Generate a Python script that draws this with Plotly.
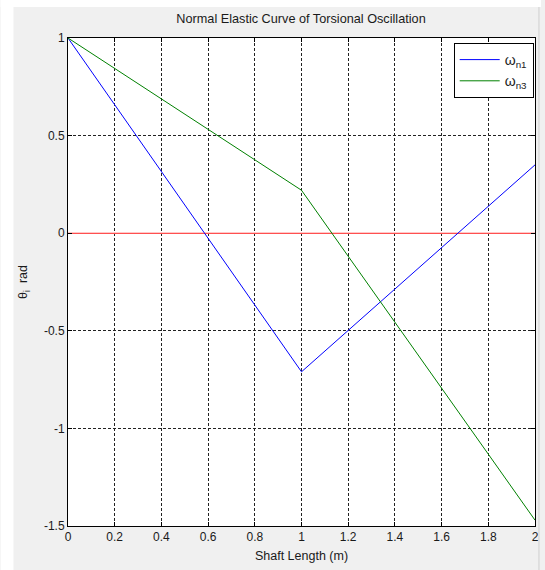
import plotly.graph_objects as go

# ---- data ----
shaft_x = [0, 1, 2]
omega_n1 = [1.0, -0.71, 0.35]
omega_n3 = [1.0, 0.22, -1.47]
ref_x = [0, 2]
ref_y = [0, 0]

x_ticks = [0, 0.2, 0.4, 0.6, 0.8, 1, 1.2, 1.4, 1.6, 1.8, 2]
x_tick_labels = ["0", "0.2", "0.4", "0.6", "0.8", "1", "1.2", "1.4", "1.6", "1.8", "2"]
y_ticks = [1, 0.5, 0, -0.5, -1, -1.5]
y_tick_labels = ["1", "0.5", "0", "-0.5", "-1", "-1.5"]

title_text = "Normal Elastic Curve of Torsional Oscillation"
x_title = "Shaft Length (m)"
y_title = "θ<sub>i</sub>  rad"
names = ["ω<sub>n1</sub>", "ω<sub>n3</sub>"]

# ---- layout geometry (pixels) ----
W, H = 545, 570
ML, MR, MT, MB = 68, 6, 38, 44
PW = W - ML - MR
PH = H - MT - MB

def px_to_paper_x(px):
    return (px - ML) / PW

def py_to_paper_y(py):
    return (H - MB - py) / PH

FONT = "Liberation Sans, Arial, sans-serif"
TXT = "#1a1a1a"

fig = go.Figure()
fig.add_trace(go.Scatter(x=ref_x, y=ref_y, mode="lines",
                         line=dict(color="#ff5050", width=1), showlegend=False,
                         hoverinfo="skip"))
fig.add_trace(go.Scatter(x=shaft_x, y=omega_n1, mode="lines", name=names[0],
                         line=dict(color="#0000ff", width=1)))
fig.add_trace(go.Scatter(x=shaft_x, y=omega_n3, mode="lines", name=names[1],
                         line=dict(color="#008000", width=1)))

axis_common = dict(
    showline=True, linecolor="black", linewidth=1, mirror="ticks",
    ticks="inside", ticklen=4, tickcolor="black",
    showgrid=True, gridcolor="#222222", gridwidth=1, griddash="3px,2px",
    tickfont=dict(family=FONT, size=12, color=TXT),
)

fig.update_xaxes(range=[0, 2], tickvals=x_ticks, ticktext=x_tick_labels, zeroline=False,
                 title=dict(text=x_title, font=dict(family=FONT, size=12.5, color=TXT),
                            standoff=7),
                 **axis_common)
fig.update_yaxes(range=[-1.5, 1], tickvals=y_ticks, ticktext=y_tick_labels,
                 zeroline=True, zerolinecolor="#ff5050", zerolinewidth=1,
                 title=dict(text=y_title, font=dict(family=FONT, size=12.5, color=TXT),
                            standoff=13),
                 **axis_common)

shapes = [
    # white strip on top
    dict(type="rect", xref="paper", yref="paper",
         x0=px_to_paper_x(0), x1=px_to_paper_x(W), y0=py_to_paper_y(7), y1=py_to_paper_y(0),
         fillcolor="white", line=dict(width=0), layer="below"),
    # white strip on left
    dict(type="rect", xref="paper", yref="paper",
         x0=px_to_paper_x(0), x1=px_to_paper_x(13), y0=py_to_paper_y(H), y1=py_to_paper_y(0),
         fillcolor="white", line=dict(width=0), layer="below"),
    # thin border on right
    dict(type="line", xref="paper", yref="paper",
         x0=px_to_paper_x(543), x1=px_to_paper_x(543), y0=py_to_paper_y(H), y1=py_to_paper_y(7),
         line=dict(color="#cfcfcf", width=1)),
]

fig.update_layout(
    width=W, height=H,
    margin=dict(l=ML, r=MR, t=MT, b=MB),
    paper_bgcolor="#f0f0f0", plot_bgcolor="white",
    font=dict(family=FONT, size=12, color=TXT),
    title=dict(text=title_text, x=px_to_paper_x(303), xref="paper", xanchor="center",
               y=1 - 19 / H, yanchor="middle",
               font=dict(family=FONT, size=12.7, color=TXT)),
    legend=dict(x=px_to_paper_x(457), y=py_to_paper_y(43), xanchor="left", yanchor="top",
                bgcolor="white", bordercolor="black", borderwidth=1,
                itemwidth=40,
                font=dict(family=FONT, size=14, color=TXT)),
    shapes=shapes,
    showlegend=True,
)

fig.write_html("out.html")
